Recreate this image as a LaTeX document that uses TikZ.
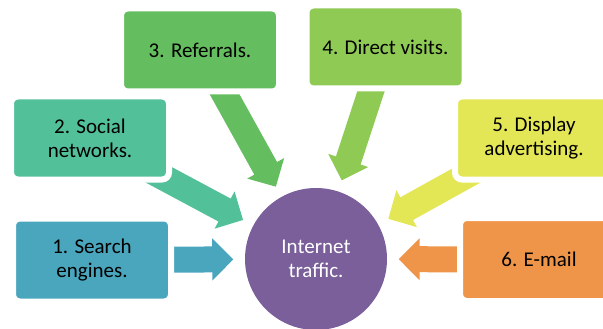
\documentclass[tikz,border=0pt]{standalone}
\usepackage{fontspec}
\setmainfont{Carlito}
\usepackage{tikz}
\usetikzlibrary{arrows.meta,backgrounds}
\definecolor{cSearch}{HTML}{4AA6BD}
\definecolor{cSocial}{HTML}{52C19A}
\definecolor{cReferral}{HTML}{64BD5E}
\definecolor{cDirect}{HTML}{8FCA55}
\definecolor{cDisplay}{HTML}{E3E655}
\definecolor{cEmail}{HTML}{EF9549}
\definecolor{cTraffic}{HTML}{7A5F9B}
\tikzstyle{source} = [rectangle, rounded corners=7pt, draw=white, line width=6pt, minimum width=158pt, minimum height=83pt, inner sep=0pt, align=center, text=black]
\tikzstyle{hub} = [circle, fill=cTraffic, minimum size=142pt, inner sep=0pt, align=center, text=white]
\tikzstyle{flow} = [line width=26pt, -{Triangle[width=41pt,length=21pt]}, shorten >=11.5pt]

\begin{document}
\begin{tikzpicture}[x=1pt,y=-1pt,font=\fontsize{21}{24}\selectfont]
	\path[use as bounding box,clip] (0,0) rectangle (603,329);
	% centre and the six sources
	\node[hub] (traffic) at (316,259) {Internet\\traffic.};
	\node[source,fill=cSearch] (search) at (92,260) {1. Search\\engines.};
	\node[source,fill=cSocial] (social) at (90,138) {2. Social\\networks.};
	\node[source,fill=cReferral] (referral) at (200,50) {3. Referrals.};
	\node[source,fill=cDirect] (direct) at (385.5,47) {4. Direct visits.};
	\node[source,fill=cDisplay] (display) at (534,138) {5. Display\\advertising.};
	\node[source,fill=cEmail] (email) at (539,259.5) {6. E-mail};
	\begin{pgfonlayer}{background}
		\draw[flow,cSearch] (search.center) -- (traffic);
		\draw[flow,cSocial] (social.center) -- (traffic);
		\draw[flow,cReferral] (referral.center) -- (traffic);
		\draw[flow,cDirect] (direct.center) -- (traffic);
		\draw[flow,cDisplay] (display.center) -- (traffic);
		\draw[flow,cEmail] (email.center) -- (traffic);
	\end{pgfonlayer}
\end{tikzpicture}
\end{document}
